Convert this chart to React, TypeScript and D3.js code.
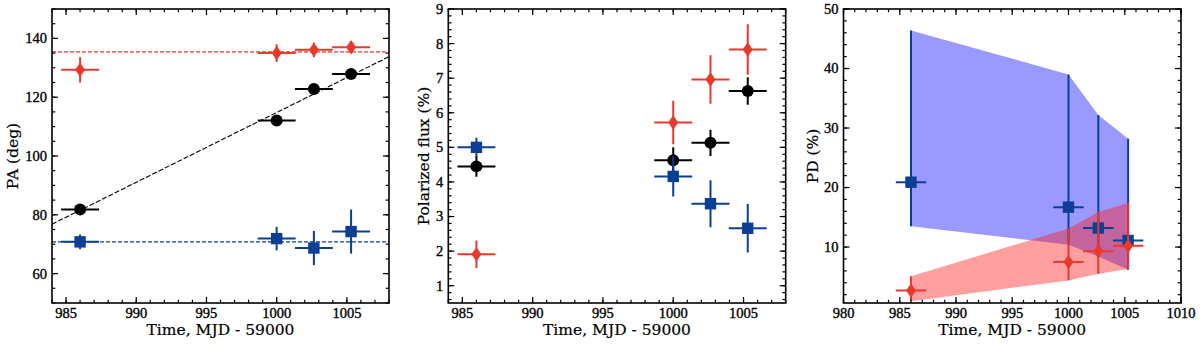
import React from 'react'
import * as d3 from 'd3'

// observation epochs (MJD - 59000) and half-widths of the time bins
const TIMES = [986.0, 1000.0, 1002.65, 1005.3]
const TIME_ERR = [1.35, 1.35, 1.35, 1.35]

// polarization angle, deg
const PA_TOTAL = [81.8, 112.1, 122.8, 127.9]
const PA_TOTAL_ERR = [1.2, 1.5, 1.3, 1.2]
const PA_RED = [129.3, 135.0, 136.1, 137.0]
const PA_RED_ERR = [4.3, 3.0, 2.5, 2.0]
const PA_BLUE = [70.8, 71.9, 68.7, 74.3]
const PA_BLUE_ERR = [2.5, 4.0, 5.8, 7.5]
const PA_RED_MEAN = 135.4
const PA_BLUE_MEAN = 70.8
const PA_FIT_TIMES = [984, 1008]
const PA_FIT_VALUES = [76.8, 133.8]

// polarized flux, %
const FLUX_TOTAL = [4.45, 4.63, 5.13, 6.63]
const FLUX_TOTAL_ERR = [0.3, 0.37, 0.38, 0.4]
const FLUX_RED = [1.91, 5.72, 6.96, 7.83]
const FLUX_RED_ERR = [0.4, 0.63, 0.7, 0.73]
const FLUX_BLUE = [5.0, 4.16, 3.37, 2.66]
const FLUX_BLUE_ERR = [0.28, 0.58, 0.68, 0.7]

// polarization degree, % (value, lower and upper bound)
const PD_BLUE = [20.9, 16.7, 13.2, 11.1]
const PD_BLUE_LO = [13.5, 10.4, 8.4, 6.2]
const PD_BLUE_HI = [46.4, 39.0, 32.2, 28.2]
const PD_RED = [2.7, 7.5, 9.3, 10.2]
const PD_RED_LO = [0.9, 4.4, 5.5, 6.3]
const PD_RED_HI = [5.1, 13.1, 15.9, 17.4]

const X_TICKS_A = [985, 990, 995, 1000, 1005]
const X_TICKS_B = [980, 985, 990, 995, 1000, 1005, 1010]
const PA_TICKS = [60, 80, 100, 120, 140]
const FLUX_TICKS = [1, 2, 3, 4, 5, 6, 7, 8, 9]
const PD_TICKS = [10, 20, 30, 40, 50]

const RED = '#e8392b'
const BLUE = '#0b3f94'
const TOP = 9
const BOTTOM = 303
const TICK_FONT = '"Liberation Serif", serif'
const LABEL_FONT = '"DejaVu Serif", serif'

const minorRange = (domain, step) =>
  d3.range(Math.ceil(domain[0] / step - 1e-9), Math.floor(domain[1] / step + 1e-9) + 1)
    .map(i => +(i * step).toFixed(4))

const Cross = ({ x, y, x0, x1, y0, y1, color }) => (
  <g stroke={color} strokeWidth={2}>
    <line x1={x0} x2={x1} y1={y} y2={y} />
    <line x1={x} x2={x} y1={y0} y2={y1} />
  </g>
)

const Marker = ({ kind, x, y, color }) => {
  if (kind === 'circle') return <circle cx={x} cy={y} r={6} fill={color} />
  if (kind === 'square') return <rect x={x - 5.7} y={y - 5.7} width={11.4} height={11.4} fill={color} />
  return <path d={`M${x},${y - 7.2}L${x + 5},${y}L${x},${y + 7.2}L${x - 5},${y}Z`} fill={color} />
}

function Series({ xs, x, y, vals, lo, hi, color, kind }) {
  return (
    <g>
      {vals.map((v, i) => (
        <g key={i}>
          <Cross
            x={x(xs[i])} y={y(v)}
            x0={x(xs[i] - TIME_ERR[i])} x1={x(xs[i] + TIME_ERR[i])}
            y0={y(lo[i])} y1={y(hi[i])}
            color={color}
          />
          <Marker kind={kind} x={x(xs[i])} y={y(v)} color={color} />
        </g>
      ))}
    </g>
  )
}

function Panel({ id, left, right, xDomain, xTicks, xMinor, yDomain, yTicks, yMinor, yLabel, labelX, children }) {
  const x = d3.scaleLinear().domain(xDomain).range([left, right])
  const y = d3.scaleLinear().domain(yDomain).range([BOTTOM, TOP])
  const major = 6
  const minor = 3.3
  return (
    <g>
      <defs>
        <clipPath id={id}>
          <rect x={left} y={TOP} width={right - left} height={BOTTOM - TOP} />
        </clipPath>
      </defs>
      <g clipPath={`url(#${id})`}>{children(x, y)}</g>
      <g stroke="#000" strokeWidth={1.2}>
        {minorRange(xDomain, xMinor).map(t => (
          <g key={'xm' + t}>
            <line x1={x(t)} x2={x(t)} y1={BOTTOM} y2={BOTTOM - minor} />
            <line x1={x(t)} x2={x(t)} y1={TOP} y2={TOP + minor} />
          </g>
        ))}
        {xTicks.map(t => (
          <g key={'x' + t}>
            <line x1={x(t)} x2={x(t)} y1={BOTTOM} y2={BOTTOM - major} />
            <line x1={x(t)} x2={x(t)} y1={TOP} y2={TOP + major} />
          </g>
        ))}
        {minorRange(yDomain, yMinor).map(t => (
          <g key={'ym' + t}>
            <line x1={left} x2={left + minor} y1={y(t)} y2={y(t)} />
            <line x1={right} x2={right - minor} y1={y(t)} y2={y(t)} />
          </g>
        ))}
        {yTicks.map(t => (
          <g key={'y' + t}>
            <line x1={left} x2={left + major} y1={y(t)} y2={y(t)} />
            <line x1={right} x2={right - major} y1={y(t)} y2={y(t)} />
          </g>
        ))}
      </g>
      <rect x={left} y={TOP} width={right - left} height={BOTTOM - TOP} fill="none" stroke="#000" strokeWidth={1.6} />
      <g fontFamily={TICK_FONT} fontSize={14.5} fill="#000" stroke="#000" strokeWidth={0.35}>
        {xTicks.map(t => (
          <text key={'xl' + t} x={x(t)} y={BOTTOM + 15} textAnchor="middle">{t}</text>
        ))}
        {yTicks.map(t => (
          <text key={'yl' + t} x={left - 5} y={y(t)} dy="0.34em" textAnchor="end">{t}</text>
        ))}
      </g>
      <g fontFamily={LABEL_FONT} fontSize={15.5} fill="#000" stroke="#000" strokeWidth={0.2}>
        <text x={(left + right) / 2} y={335} textAnchor="middle">Time, MJD - 59000</text>
        <text transform={`translate(${labelX},${(TOP + BOTTOM) / 2}) rotate(-90)`} dy="0.35em" textAnchor="middle">{yLabel}</text>
      </g>
    </g>
  )
}

export default function App() {
  const lo = (v, e) => v.map((d, i) => d - e[i])
  const hi = (v, e) => v.map((d, i) => d + e[i])
  return (
    <svg width={1200} height={344} style={{ position: 'absolute', left: 0, top: 0, background: '#fff' }}>
      <Panel
        id="pa" left={52} right={389}
        xDomain={[984, 1008]} xTicks={X_TICKS_A} xMinor={1}
        yDomain={[50, 150]} yTicks={PA_TICKS} yMinor={5}
        yLabel="PA (deg)" labelX={13}
      >
        {(x, y) => (
          <g>
            <path
              d={d3.line()(PA_FIT_TIMES.map((t, i) => [x(t), y(PA_FIT_VALUES[i])]))}
              stroke="#000" strokeWidth={1.1} strokeDasharray="5,2" fill="none"
            />
            <line x1={x(984)} x2={x(1008)} y1={y(PA_RED_MEAN)} y2={y(PA_RED_MEAN)} stroke={RED} strokeWidth={1.3} strokeDasharray="4,2" />
            <line x1={x(984)} x2={x(1008)} y1={y(PA_BLUE_MEAN)} y2={y(PA_BLUE_MEAN)} stroke={BLUE} strokeWidth={1.3} strokeDasharray="4,2" />
            <Series xs={TIMES} x={x} y={y} vals={PA_TOTAL} lo={lo(PA_TOTAL, PA_TOTAL_ERR)} hi={hi(PA_TOTAL, PA_TOTAL_ERR)} color="#000" kind="circle" />
            <Series xs={TIMES} x={x} y={y} vals={PA_BLUE} lo={lo(PA_BLUE, PA_BLUE_ERR)} hi={hi(PA_BLUE, PA_BLUE_ERR)} color={BLUE} kind="square" />
            <Series xs={TIMES} x={x} y={y} vals={PA_RED} lo={lo(PA_RED, PA_RED_ERR)} hi={hi(PA_RED, PA_RED_ERR)} color={RED} kind="diamond" />
          </g>
        )}
      </Panel>
      <Panel
        id="flux" left={448.3} right={785.7}
        xDomain={[984, 1008]} xTicks={X_TICKS_A} xMinor={1}
        yDomain={[0.5, 9]} yTicks={FLUX_TICKS} yMinor={0.2}
        yLabel="Polarized flux (%)" labelX={424}
      >
        {(x, y) => (
          <g>
            <Series xs={TIMES} x={x} y={y} vals={FLUX_RED} lo={lo(FLUX_RED, FLUX_RED_ERR)} hi={hi(FLUX_RED, FLUX_RED_ERR)} color={RED} kind="diamond" />
            <Series xs={TIMES} x={x} y={y} vals={FLUX_TOTAL} lo={lo(FLUX_TOTAL, FLUX_TOTAL_ERR)} hi={hi(FLUX_TOTAL, FLUX_TOTAL_ERR)} color="#000" kind="circle" />
            <Series xs={TIMES} x={x} y={y} vals={FLUX_BLUE} lo={lo(FLUX_BLUE, FLUX_BLUE_ERR)} hi={hi(FLUX_BLUE, FLUX_BLUE_ERR)} color={BLUE} kind="square" />
          </g>
        )}
      </Panel>
      <Panel
        id="pd" left={843.5} right={1181}
        xDomain={[980, 1010]} xTicks={X_TICKS_B} xMinor={1}
        yDomain={[0.6, 50]} yTicks={PD_TICKS} yMinor={2}
        yLabel="PD (%)" labelX={813}
      >
        {(x, y) => {
          const band = d3.area().x((d, i) => x(TIMES[i]))
          return (
            <g>
              <path d={band.y0((d, i) => y(PD_BLUE_LO[i])).y1((d, i) => y(PD_BLUE_HI[i]))(TIMES)} fill="#0000ff" fillOpacity={0.4} />
              <path d={band.y0((d, i) => y(PD_RED_LO[i])).y1((d, i) => y(PD_RED_HI[i]))(TIMES)} fill="#ff1a1a" fillOpacity={0.42} />
              <Series xs={TIMES} x={x} y={y} vals={PD_BLUE} lo={PD_BLUE_LO} hi={PD_BLUE_HI} color={BLUE} kind="square" />
              <Series xs={TIMES} x={x} y={y} vals={PD_RED} lo={PD_RED_LO} hi={PD_RED_HI} color={RED} kind="diamond" />
            </g>
          )
        }}
      </Panel>
    </svg>
  )
}
